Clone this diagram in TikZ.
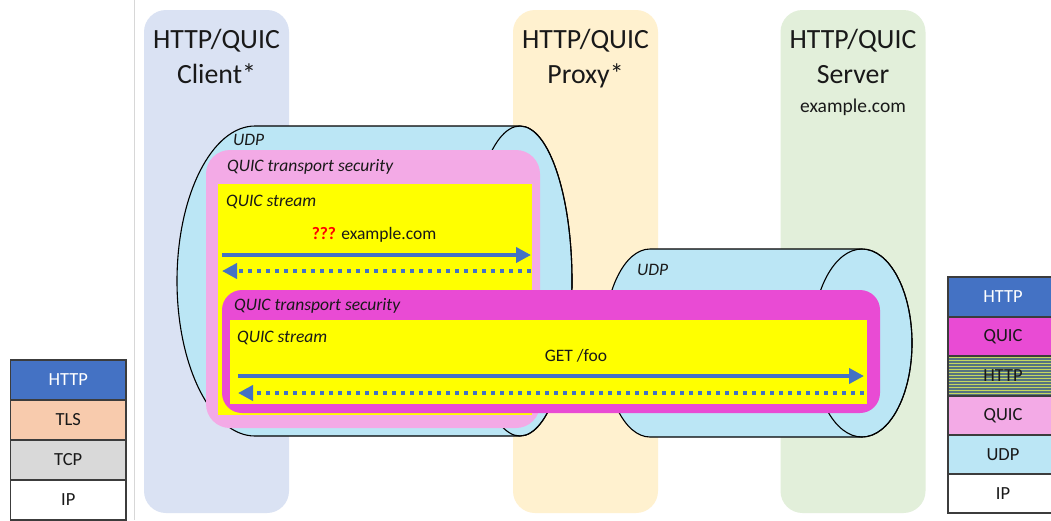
\documentclass[tikz,border=0pt]{standalone}
\usepackage{fontspec}
\setmainfont{Carlito}
\usetikzlibrary{arrows.meta}
\definecolor{clientbg}{RGB}{218,226,243}
\definecolor{proxybg}{RGB}{255,241,207}
\definecolor{serverbg}{RGB}{226,239,218}
\definecolor{udpblue}{RGB}{187,230,245}
\definecolor{quicpink}{RGB}{243,170,230}
\definecolor{quicmag}{RGB}{233,75,212}
\definecolor{streamyellow}{RGB}{255,255,0}
\definecolor{arrowblue}{RGB}{68,114,196}
\definecolor{tlsorange}{RGB}{248,203,173}
\definecolor{tcpgray}{RGB}{217,217,217}
\definecolor{stripebase}{RGB}{85,115,128}
\definecolor{stripeline}{RGB}{196,214,96}
\definecolor{textdark}{RGB}{25,25,25}
\definecolor{sepgray}{RGB}{215,215,215}
\definecolor{boxedge}{RGB}{60,60,60}
\tikzset{
  colbox/.style={rectangle, rounded corners=22pt, draw=none, inner sep=0pt, minimum width=145pt, minimum height=503pt},
  titletext/.style={inner sep=0pt, anchor=base, text=textdark, font=\fontsize{27.8}{32}\selectfont},
  subtitletext/.style={inner sep=0pt, anchor=base, text=textdark, font=\fontsize{19.5}{23}\selectfont},
  layerlabel/.style={inner sep=0pt, anchor=west, text=textdark, font=\fontsize{17.5}{21}\selectfont\itshape},
  msgtext/.style={inner sep=0pt, text=textdark, font=\fontsize{17.5}{21}\selectfont},
  cyledge/.style={draw=black, line width=1.1pt},
  fwdarrow/.style={draw=arrowblue, line width=4.5pt, -{Triangle[length=15pt,width=15pt]}},
  backarrow/.style={draw=arrowblue, line width=4.5pt, dash pattern=on 4.5pt off 4.5pt, -{Triangle[length=15pt,width=15pt]}},
  stackbox/.style={rectangle, draw=boxedge, line width=1.1pt, inner sep=0pt, text=textdark, font=\fontsize{18.5}{22}\selectfont},
}
\begin{document}
\begin{tikzpicture}[x=1pt,y=-1pt]
\useasboundingbox (0,0) rectangle (1051,520);
\clip (0,0) rectangle (1051,520);
\fill[white] (0,0) rectangle (1051,520);

% separator
\coordinate (septop) at (134,0);
\coordinate (sepbot) at (134,520);
\draw[sepgray, line width=1pt] (septop) -- (sepbot);

% columns
\node[colbox, fill=clientbg] (client) at (216.5,261.5) {};
\node[colbox, fill=proxybg] (proxy) at (585.5,261.5) {};
\node[colbox, fill=serverbg] (server) at (853,261.5) {};

\node[titletext] (ct1) at (216.5,48) {HTTP/QUIC};
\node[titletext] (ct2) at (216.5,83) {Client*};
\node[titletext] (pt1) at (585.5,48) {HTTP/QUIC};
\node[titletext] (pt2) at (585.5,83) {Proxy*};
\node[titletext] (st1) at (853,48) {HTTP/QUIC};
\node[titletext] (st2) at (853,83) {Server};
\node[subtitletext] (st3) at (853,112) {example.com};

% cylinder 1
\path[fill=udpblue, cyledge] (255,126) -- (520,126)
  arc[start angle=-90, end angle=90, x radius=52, y radius=155]
  -- (255,436)
  arc[start angle=90, end angle=270, x radius=78, y radius=155] -- cycle;
\draw[cyledge] (520,281) ellipse[x radius=52, y radius=155];

% cylinder 2
\path[fill=udpblue, cyledge] (650,249) -- (862,249)
  arc[start angle=-90, end angle=90, x radius=50, y radius=94]
  -- (650,437)
  arc[start angle=90, end angle=270, x radius=46, y radius=94] -- cycle;
\draw[cyledge] (862,343) ellipse[x radius=50, y radius=94];

% outer QUIC connection (client-proxy)
\fill[quicpink, rounded corners=24pt] (206,150) rectangle (540,428);
\fill[streamyellow] (218,184) rectangle (532,415);
\node[layerlabel] (udp1) at (233,140) {UDP};
\node[layerlabel] (qts1) at (227,167) {QUIC transport security};
\node[layerlabel] (qs1) at (226,202) {QUIC stream};
\node[msgtext] (m1) at (374,235) {{\color{red}\textbf{???}} example.com};
\coordinate (a1s) at (222,255);
\coordinate (a1e) at (531,255);
\coordinate (b1s) at (531,271);
\coordinate (b1e) at (222,271);
\draw[fwdarrow] (a1s) -- (a1e);
\draw[backarrow] (b1s) -- (b1e);

% inner QUIC connection (client-server)
\node[layerlabel] (udp2) at (637,270) {UDP};
\fill[quicmag, rounded corners=20pt] (222,290) rectangle (880,413);
\fill[streamyellow] (230,320) rectangle (867,404);
\node[layerlabel] (qts2) at (234,306) {QUIC transport security};
\node[layerlabel] (qs2) at (237,338) {QUIC stream};
\node[msgtext] (m2) at (576,356) {GET /foo};
\coordinate (a2s) at (238,376);
\coordinate (a2e) at (864,376);
\coordinate (b2s) at (864,393);
\coordinate (b2e) at (238,393);
\draw[fwdarrow] (a2s) -- (a2e);
\draw[backarrow] (b2s) -- (b2e);

% left stack
\node[stackbox, fill=arrowblue, text=white, minimum width=115.5pt, minimum height=40pt] (l1) at (68.25,380) {HTTP};
\node[stackbox, fill=tlsorange, minimum width=115.5pt, minimum height=40pt] (l2) at (68.25,420) {TLS};
\node[stackbox, fill=tcpgray, minimum width=115.5pt, minimum height=40pt] (l3) at (68.25,460) {TCP};
\node[stackbox, fill=white, minimum width=115.5pt, minimum height=40pt] (l4) at (68.25,500) {IP};

% right stack
\node[stackbox, fill=arrowblue, text=white, minimum width=110pt, minimum height=40pt] (r1) at (1003,297) {HTTP};
\node[stackbox, fill=quicmag, minimum width=110pt, minimum height=39pt] (r2) at (1003,336.5) {QUIC};
\node[stackbox, fill=stripebase, minimum width=110pt, minimum height=40pt,
  path picture={\foreach \k in {0,...,13} \draw[stripeline, line width=1.1pt] ([yshift={-(\k*3+1.5)*1pt}]path picture bounding box.north west) -- ++(200pt,0);}] (r3) at (1003,376) {};
\node[msgtext, font=\fontsize{18.5}{22}\selectfont] (r3t) at (r3) {HTTP};
\node[stackbox, fill=quicpink, minimum width=110pt, minimum height=39pt] (r4) at (1003,415.5) {QUIC};
\node[stackbox, fill=udpblue, minimum width=110pt, minimum height=39pt] (r5) at (1003,454.5) {UDP};
\node[stackbox, fill=white, minimum width=110pt, minimum height=39pt] (r6) at (1003,493.5) {IP};
\end{tikzpicture}
\end{document}
